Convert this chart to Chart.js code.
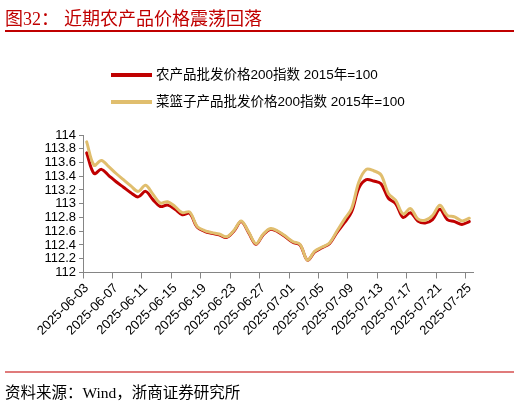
<!DOCTYPE html>
<html>
<head>
<meta charset="utf-8">
<script src="https://cdn.jsdelivr.net/npm/chart.js@4.4.1/dist/chart.umd.min.js"></script>
<style>
  html, body { margin: 0; padding: 0; background: #fff; }
  #wrap { position: relative; width: 520px; height: 403px; overflow: hidden; font-family: "Liberation Sans", "Noto Sans CJK SC", sans-serif; }
  #chart { position: absolute; left: 0; top: 0; }
  .title { position: absolute; top: 4px; font-size: 18px; color: #c00000; font-family: "Liberation Serif", "Noto Sans CJK SC", serif; white-space: nowrap; }
  .rule { position: absolute; left: 5px; width: 509px; }
  .legend-line { position: absolute; left: 111px; width: 41px; height: 4px; }
  .legend-text { position: absolute; left: 156px; font-size: 13.5px; color: #000; white-space: nowrap; line-height: 16px; }
  .source { position: absolute; left: 5px; top: 380px; font-size: 15.5px; color: #000; font-family: "Liberation Serif", "Noto Sans CJK SC", serif; white-space: nowrap; }
</style>
</head>
<body>
<div id="wrap">
  <canvas id="chart" width="520" height="403"></canvas>
  <div class="title" style="left:5px">图32：</div>
  <div class="title" style="left:64px">近期农产品价格震荡回落</div>
  <div class="rule" style="top:30px;height:1.5px;background:#c00000"></div>
  <div id="legend"></div>
  <div class="rule" style="top:371px;height:2px;background:#e07b7b"></div>
  <div class="source">资料来源：Wind，浙商证券研究所</div>
</div>
<script>
const dates = [
    '2025-06-03', '2025-06-04', '2025-06-05', '2025-06-06', '2025-06-07', '2025-06-08', '2025-06-09',
    '2025-06-10', '2025-06-11', '2025-06-12', '2025-06-13', '2025-06-14', '2025-06-15', '2025-06-16',
    '2025-06-17', '2025-06-18', '2025-06-19', '2025-06-20', '2025-06-21', '2025-06-22', '2025-06-23',
    '2025-06-24', '2025-06-25', '2025-06-26', '2025-06-27', '2025-06-28', '2025-06-29', '2025-06-30',
    '2025-07-01', '2025-07-02', '2025-07-03', '2025-07-04', '2025-07-05', '2025-07-06', '2025-07-07',
    '2025-07-08', '2025-07-09', '2025-07-10', '2025-07-11', '2025-07-12', '2025-07-13', '2025-07-14',
    '2025-07-15', '2025-07-16', '2025-07-17', '2025-07-18', '2025-07-19', '2025-07-20', '2025-07-21',
    '2025-07-22', '2025-07-23', '2025-07-24', '2025-07-25'
];

// 农产品批发价格200指数
const agriIndex = [
    113.74, 113.44, 113.50, 113.41, 113.32, 113.24, 113.16, 113.10, 113.18, 113.06,
    112.96, 112.98, 112.92, 112.84, 112.86, 112.66, 112.60, 112.57, 112.55, 112.51,
    112.60, 112.74, 112.58, 112.41, 112.55, 112.63, 112.59, 112.52, 112.44, 112.40,
    112.18, 112.30, 112.36, 112.42, 112.58, 112.72, 112.88, 113.23, 113.35, 113.33,
    113.29, 113.08, 113.00, 112.80, 112.87, 112.75, 112.72, 112.77, 112.92, 112.77,
    112.74, 112.70, 112.74
];

// 菜篮子产品批发价格200指数
const basketIndex = [
    113.90, 113.56, 113.63, 113.54, 113.44, 113.35, 113.26, 113.18, 113.27, 113.14,
    113.01, 113.03, 112.96, 112.87, 112.88, 112.67, 112.61, 112.58, 112.56, 112.52,
    112.61, 112.75, 112.59, 112.42, 112.56, 112.64, 112.60, 112.53, 112.45, 112.41,
    112.18, 112.31, 112.37, 112.43, 112.60, 112.77, 112.93, 113.32, 113.50, 113.48,
    113.42, 113.15, 113.05, 112.85, 112.93, 112.78, 112.76, 112.83, 112.98, 112.83,
    112.81, 112.75, 112.79
];

const seriesNames = ['农产品批发价格200指数 2015年=100', '菜篮子产品批发价格200指数 2015年=100'];
const seriesColors = ['#c00000', '#e0be6e'];
const yMin = 112, yMax = 114, yStep = 0.2;
const labelEvery = 4;

// legend rows
const legend = document.getElementById('legend');
seriesNames.forEach((name, i) => {
    const top = 73 + i * 26.6;
    legend.innerHTML +=
        `<div class="legend-line" style="top:${top}px;background:${seriesColors[i]}"></div>` +
        `<div class="legend-text" style="top:${top - 6}px">${name}</div>`;
});

const axisGray = '#858585';
const tickFont = { family: '"Liberation Sans", Arial, sans-serif', size: 13 };

const ctx = document.getElementById('chart').getContext('2d');
new Chart(ctx, {
    type: 'line',
    data: {
        labels: dates,
        datasets: [{
            label: seriesNames[0],
            data: agriIndex,
            borderColor: seriesColors[0],
            borderWidth: 3,
            order: 2
        }, {
            label: seriesNames[1],
            data: basketIndex,
            borderColor: seriesColors[1],
            borderWidth: 3,
            order: 1
        }]
    },
    options: {
        responsive: false,
        animation: false,
        layout: { padding: { left: 0, top: 135, right: 47, bottom: 0 } },
        elements: {
            point: { radius: 0 },
            line: { tension: 0.35, borderCapStyle: 'round', borderJoinStyle: 'round' }
        },
        plugins: {
            legend: { display: false },
            tooltip: { enabled: false }
        },
        scales: {
            x: {
                offset: true,
                afterFit: scale => { scale.height = 130.5; },
                grid: {
                    offset: true,
                    drawOnChartArea: false,
                    tickLength: 6,
                    color: c => (c.index !== undefined && c.index % labelEvery === 0) ? axisGray : 'rgba(0,0,0,0)'
                },
                border: { display: true, color: axisGray, width: 1 },
                ticks: {
                    autoSkip: false,
                    maxRotation: 45,
                    minRotation: 45,
                    padding: 2,
                    color: '#000',
                    font: tickFont,
                    callback: (v, i) => i % labelEvery === 0 ? dates[i] : ''
                }
            },
            y: {
                min: yMin,
                max: yMax,
                afterFit: scale => { scale.width = 83; },
                grid: { drawOnChartArea: false, tickLength: 4, color: axisGray },
                border: { display: true, color: axisGray, width: 1 },
                ticks: {
                    stepSize: yStep,
                    autoSkip: false,
                    padding: 3,
                    color: '#000',
                    font: tickFont,
                    callback: v => String(Number(v.toFixed(1)))
                }
            }
        }
    }
});
</script>
</body>
</html>
